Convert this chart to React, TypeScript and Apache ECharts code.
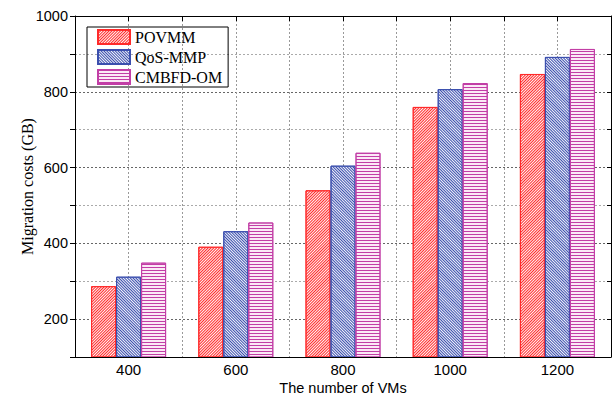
import React, { useEffect, useRef } from "react";
import * as echarts from "echarts";

const categories = ["400", "600", "800", "1000", "1200"];
const povmm = [287, 391, 540, 760, 847];
const qosMmp = [312, 432, 605, 807, 892];
const cmbfdOm = [349, 455, 639, 823, 913];
const seriesNames = ["POVMM", "QoS-MMP", "CMBFD-OM"];

export default function App() {
  const ref = useRef<HTMLDivElement>(null);
  useEffect(() => {
    if (!ref.current) return;
    const chart = echarts.init(ref.current, null, { renderer: "svg" });
    const red = "#ff2a2a";
    const blue = "#3b4fae";
    const mag = "#c23ea6";
    const sans = "Liberation Sans";
    const serif = "Liberation Serif";
    chart.setOption({
      animation: false,
      grid: { left: 75, right: 2, top: 16, bottom: 37, outerBoundsMode: "none", containLabel: false },
      legend: {
        orient: "vertical",
        left: 87,
        top: 27,
        icon: "rect",
        itemWidth: 32,
        itemHeight: 14,
        itemGap: 4,
        padding: [2, 6, 2, 10],
        borderColor: "#000",
        borderWidth: 1,
        textStyle: { fontFamily: serif, fontSize: 16, lineHeight: 14, color: "#000" },
        data: seriesNames,
      },
      xAxis: [
        {
          type: "category",
          data: categories,
          axisLine: { lineStyle: { color: "#000", width: 1 } },
          axisTick: { inside: true, length: 5, lineStyle: { color: "#000" } },
          axisLabel: { fontFamily: sans, fontSize: 15, lineHeight: 14, color: "#000", margin: 5 },
          splitLine: { show: false },
          name: "The number of VMs",
          nameLocation: "middle",
          nameGap: 24,
          nameMoveOverlap: false,
          nameTextStyle: { fontFamily: sans, fontSize: 14.5, lineHeight: 13, color: "#000" },
          z: 5,
        },
        {
          type: "value",
          position: "top",
          min: 0,
          max: 10,
          interval: 1,
          axisLine: { show: true, onZero: false, lineStyle: { color: "#000", width: 1 } },
          axisTick: { show: true, inside: true, length: 5, lineStyle: { color: "#000" } },
          axisLabel: { show: false },
          splitLine: { show: true, lineStyle: { color: "#999", type: [2, 2], width: 1 } },
        },
      ],
      yAxis: [
        {
          type: "value",
          min: 100,
          max: 1000,
          interval: 100,
          axisLine: { show: true, onZero: false, lineStyle: { color: "#000", width: 1 } },
          axisTick: { show: true, length: 5, lineStyle: { color: "#000" } },
          axisLabel: {
            fontFamily: sans,
            fontSize: 14.5,
            color: "#000",
            margin: 7,
            formatter: (v: number) => (v % 200 === 0 ? String(v) : ""),
          },
          splitLine: {
            show: true,
            lineStyle: { color: ["#aaaaaa", "#666666"], type: [2, 2], width: 1 },
          },
          name: "Migration costs (GB)",
          nameLocation: "middle",
          nameGap: 40,
          nameMoveOverlap: false,
          nameTextStyle: { fontFamily: serif, fontSize: 16, color: "#000" },
        },
        {
          type: "value",
          position: "right",
          min: 100,
          max: 1000,
          interval: 100,
          axisLine: { show: true, onZero: false, lineStyle: { color: "#000", width: 1 } },
          axisTick: { show: true, inside: true, length: 4, lineStyle: { color: "#000" } },
          axisLabel: { show: false },
          splitLine: { show: false },
        },
      ],
      series: [
        {
          name: seriesNames[0],
          type: "bar",
          data: povmm,
          barWidth: 25,
          barGap: "0%",
          itemStyle: {
            color: "#fff4f4",
            borderColor: red,
            borderWidth: 1,
            decal: {
              symbol: "rect",
              symbolSize: 1,
              color: red,
              dashArrayX: [1, 0],
              dashArrayY: [1, 1],
              rotation: -Math.PI / 4,
            },
          },
        },
        {
          name: seriesNames[1],
          type: "bar",
          data: qosMmp,
          barWidth: 25,
          barGap: "0%",
          itemStyle: {
            color: "#f4f5fb",
            borderColor: blue,
            borderWidth: 1,
            decal: {
              symbol: "rect",
              symbolSize: 1,
              color: blue,
              dashArrayX: [1, 0],
              dashArrayY: [1, 1],
              rotation: Math.PI / 4,
            },
          },
        },
        {
          name: seriesNames[2],
          type: "bar",
          data: cmbfdOm,
          barWidth: 25,
          barGap: "0%",
          itemStyle: {
            color: "#fbe9f6",
            borderColor: mag,
            borderWidth: 1,
            decal: {
              symbol: "rect",
              symbolSize: 1,
              color: mag,
              dashArrayX: [1, 0],
              dashArrayY: [1, 2],
              rotation: 0,
            },
          },
        },
      ],
    });
    return () => chart.dispose();
  }, []);
  return <div ref={ref} style={{ width: 613, height: 394, position: "absolute", left: 0, top: 0 }} />;
}
